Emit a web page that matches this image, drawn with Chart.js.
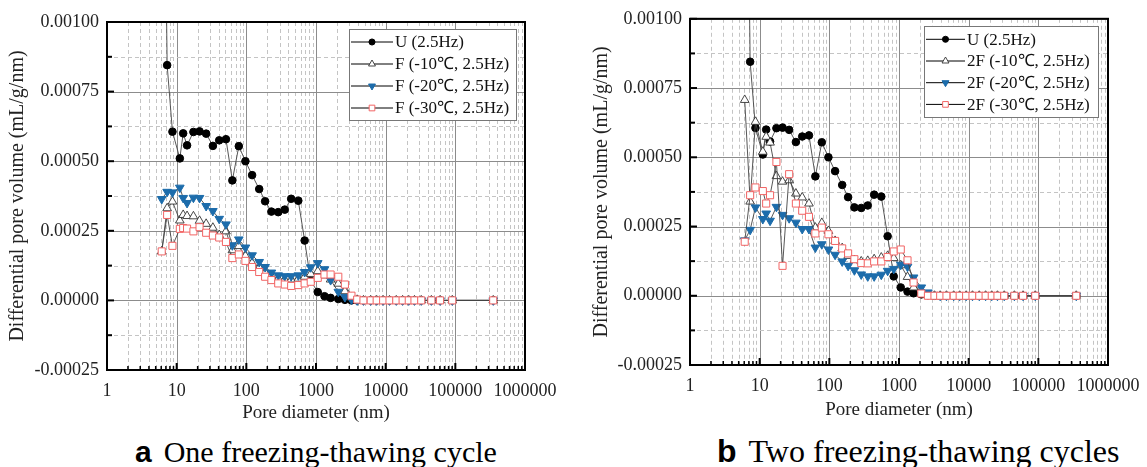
<!DOCTYPE html>
<html>
<head>
<meta charset="utf-8">
<script src="https://cdn.jsdelivr.net/npm/chart.js@4.4.1/dist/chart.umd.min.js"></script>
<style>
  body { margin: 0; background: #fff; width: 1147px; height: 467px; overflow: hidden; }
  .wrap { position: absolute; top: 0; height: 430px; }
  .cap { position: absolute; font-family: "Liberation Serif", serif; line-height: 1; color: #000; white-space: nowrap; }
  .cap b { font-family: "Liberation Sans", Arial, sans-serif; font-weight: bold; margin-right: 12px; }
</style>
</head>
<body>
<div class="wrap" style="left:0;width:560px"><canvas id="chartA"></canvas></div>
<div class="wrap" style="left:580px;width:567px"><canvas id="chartB"></canvas></div>
<div class="cap" style="left:135px;top:437px;font-size:30px"><b>a</b>One freezing-thawing cycle</div>
<div class="cap" style="left:717px;top:435px;font-size:32px"><b>b</b>Two freezing-thawing cycles</div>

<script>
// pore diameters (nm), same mercury intrusion steps for every curve
const poreSize = [6.1, 7.3, 8.7, 11.1, 12.4, 14.1, 17.4, 21.3, 26.5, 33.1, 40.8, 51, 63, 78, 97, 121, 153, 186, 229, 287,
  356, 440, 557, 687, 840, 1060, 1325, 1620, 2090, 2600, 3230, 3900, 4800, 6100, 7430, 9200, 11350, 14200, 17500, 21450,
  25900, 32400, 45300, 60400, 90300, 350000];

// differential pore volume (mL/g/nm)
const volU = [0.0025, 0.000845, 0.000606, 0.00051, 0.0006, 0.000557, 0.000605, 0.000607, 0.000599, 0.000555, 0.000575,
  0.000579, 0.000431, 0.000554, 0.0005, 0.00045, 0.0004, 0.000356, 0.000319, 0.000317, 0.000326, 0.000365, 0.000358,
  0.000215, 0.00007, 0.00003, 0.000015, 0.000009, 0.000005, 0.000002, 0, 0, 0, 0, 0, 0, 0, 0, 0, 0, 0, 0, 0, 0, 0, 0];

const volF10 = [0.000176, 0.000331, 0.000355, 0.000287, 0.000307, 0.000303, 0.000302, 0.000286, 0.000275, 0.000261,
  0.000235, 0.000248, 0.00018, 0.000195, 0.00016, 0.000135, 0.000118, 0.0001, 0.000088, 0.000078, 0.000075, 0.000075,
  0.000078, 0.000085, 0.000095, 0.000105, 0.00009, 0.000075, 0.00006, 0.000033, 0.00001, 0.000002, 0, 0, 0, 0, 0, 0, 0,
  0, 0, 0, 0, 0, 0, 0];
const volF20 = [0.000364, 0.00039, 0.000388, 0.000405, 0.000368, 0.00035, 0.000369, 0.000368, 0.000339, 0.000321,
  0.000293, 0.000273, 0.000198, 0.000219, 0.00019, 0.000162, 0.000138, 0.00012, 0.0001, 0.00009, 0.000087, 0.000087,
  0.00009, 0.000102, 0.000119, 0.000134, 0.000112, 0.000073, 0.000031, 0.000012, 0.000003, 0, 0, 0, 0, 0, 0, 0, 0, 0,
  0, 0, 0, 0, 0, 0];
const volF30 = [0.000176, 0.000307, 0.000196, 0.000257, 0.00026, 0.000258, 0.000248, 0.000263, 0.000243, 0.000233,
  0.000226, 0.00021, 0.000152, 0.000165, 0.000142, 0.00012, 0.000102, 0.000085, 0.000073, 0.000061, 0.000057, 0.000052,
  0.000055, 0.000061, 0.000067, 0.000081, 0.000093, 0.000093, 0.000085, 0.000057, 0.000017, 0.000003, 0, 0, 0, 0, 0, 0,
  0, 0, 0, 0, 0, 0, 0, 0];

const vol2F10 = [0.000707, 0.00034, 0.000628, 0.00052, 0.000574, 0.000553, 0.000432, 0.000412, 0.000417, 0.000369,
  0.000355, 0.000333, 0.000246, 0.000263, 0.000234, 0.000198, 0.000172, 0.000144, 0.000129, 0.000124, 0.000126,
  0.000132, 0.000138, 0.000144, 0.000136, 0.00011, 0.000068, 0.00003, 0.00001, 0.000002, 0, 0, 0, 0, 0, 0, 0, 0, 0, 0,
  0, 0, 0, 0, 0, 0];
const vol2F20 = [0.0002, 0.000238, 0.000319, 0.000277, 0.000297, 0.000271, 0.000321, 0.000292, 0.00028, 0.000264,
  0.000241, 0.000241, 0.000174, 0.000186, 0.000167, 0.000148, 0.000124, 0.000108, 0.000092, 0.000077, 0.00007, 0.00007,
  0.000076, 0.00009, 0.000097, 0.000112, 0.000105, 0.000066, 0.00003, 0.000012, 0.000003, 0, 0, 0, 0, 0, 0, 0, 0, 0, 0,
  0, 0, 0, 0, 0];
const vol2F30 = [0.000195, 0.000363, 0.000391, 0.000378, 0.000333, 0.000363, 0.000483, 0.000108, 0.000439, 0.000333,
  0.000307, 0.000285, 0.000225, 0.000246, 0.000222, 0.000198, 0.000171, 0.000153, 0.000132, 0.000118, 0.000117,
  0.000124, 0.000124, 0.00014, 0.00016, 0.000167, 0.000128, 0.000048, 0.000008, 0, 0, 0, 0, 0, 0, 0, 0, 0, 0, 0, 0, 0,
  0, 0, 0, 0];

const labelsA = ['U (2.5Hz)', 'F (-10℃, 2.5Hz)', 'F (-20℃, 2.5Hz)', 'F (-30℃, 2.5Hz)'];
const labelsB = ['U (2.5Hz)', '2F (-10℃, 2.5Hz)', '2F (-20℃, 2.5Hz)', '2F (-30℃, 2.5Hz)'];

// axis ticks
const decades = [1, 10, 100, 1000, 10000, 100000, 1000000];
const yMin = -0.00025, yMax = 0.001, yStep = 0.00025;

const SERIF = '"Liberation Serif", "Times New Roman", serif';

// marker look of the four curves
const markers = [
  { pointStyle: 'circle', pointRadius: 3.8, pointBackgroundColor: '#000', pointBorderColor: '#000', pointBorderWidth: 1 },
  { pointStyle: 'triangle', pointRadius: 5, pointBackgroundColor: '#fff', pointBorderColor: '#333', pointBorderWidth: 0.9 },
  { pointStyle: 'triangle', pointRotation: 180, pointRadius: 5, pointBackgroundColor: '#1c6cab', pointBorderColor: '#1c6cab', pointBorderWidth: 1 },
  { pointStyle: 'rect', pointRadius: 5, pointBackgroundColor: '#fff', pointBorderColor: '#f26464', pointBorderWidth: 1 }
];

const isDecade = v => Math.abs(Math.log10(v) - Math.round(Math.log10(v))) < 1e-9;

// draw one marker by hand (used in the legend box)
const drawMarker = (ctx, ds, x, y, scale) => {
  const r = ds.pointRadius * scale;
  ctx.save();
  ctx.fillStyle = ds.pointBackgroundColor;
  ctx.strokeStyle = ds.pointBorderColor;
  ctx.lineWidth = ds.pointBorderWidth;
  ctx.beginPath();
  if (ds.pointStyle === 'circle') {
    ctx.arc(x, y, r, 0, Math.PI * 2);
  } else if (ds.pointStyle === 'triangle') {
    const d = ds.pointRotation === 180 ? -1 : 1;
    ctx.moveTo(x, y - d * r);
    ctx.lineTo(x + r * 0.866, y + d * r / 2);
    ctx.lineTo(x - r * 0.866, y + d * r / 2);
    ctx.closePath();
  } else {
    const s = r / Math.SQRT2;
    ctx.rect(x - s, y - s, 2 * s, 2 * s);
  }
  ctx.fill();
  ctx.stroke();
  ctx.restore();
};

// gridlines, frame and inward ticks, placed through the chart scales
const frameGrid = {
  id: 'frameGrid',
  beforeDatasetsDraw(chart) {
    const { ctx, chartArea: a, scales: { x, y } } = chart;
    ctx.save();
    ctx.lineWidth = 1;
    for (let e = 0; e < 6; e++) {
      for (let k = 1; k <= 9; k++) {
        const px = Math.round(x.getPixelForValue(k * Math.pow(10, e))) + 0.5;
        ctx.strokeStyle = k === 1 ? '#8c8c8c' : '#c4c4c4';
        ctx.setLineDash(k === 1 ? [] : [4, 3]);
        ctx.beginPath(); ctx.moveTo(px, a.top); ctx.lineTo(px, a.bottom); ctx.stroke();
      }
    }
    for (let v = yMin; v <= yMax + 1e-12; v += yStep / 2) {
      const py = Math.round(y.getPixelForValue(v)) + 0.5;
      const major = Math.abs(v / yStep - Math.round(v / yStep)) < 1e-6;
      ctx.strokeStyle = major ? '#8c8c8c' : '#c4c4c4';
      ctx.setLineDash(major ? [] : [4, 3]);
      ctx.beginPath(); ctx.moveTo(a.left, py); ctx.lineTo(a.right, py); ctx.stroke();
    }
    ctx.restore();
  },
  afterDraw(chart) {
    const { ctx, chartArea: a, scales: { x, y } } = chart;
    ctx.save();
    ctx.strokeStyle = '#000';
    // ticks on the left axis
    for (let v = yMin; v <= yMax + 1e-12; v += yStep / 2) {
      const py = y.getPixelForValue(v);
      const major = Math.abs(v / yStep - Math.round(v / yStep)) < 1e-6;
      ctx.lineWidth = 2;
      ctx.beginPath(); ctx.moveTo(a.left, py); ctx.lineTo(a.left + (major ? 7 : 5), py); ctx.stroke();
    }
    // ticks on the bottom axis
    for (let e = 0; e < 6; e++) {
      for (let k = 1; k <= 9; k++) {
        const px = x.getPixelForValue(k * Math.pow(10, e));
        ctx.lineWidth = k === 1 ? 2 : 1.5;
        ctx.beginPath(); ctx.moveTo(px, a.bottom); ctx.lineTo(px, a.bottom - (k === 1 ? 7 : 4)); ctx.stroke();
      }
    }
    ctx.lineWidth = 2;
    ctx.strokeRect(a.left, a.top, a.right - a.left, a.bottom - a.top);
    ctx.restore();
  }
};

// legend box inside the plot: black line through the marker
const boxLegend = {
  id: 'boxLegend',
  afterDraw(chart, args, o) {
    const ctx = chart.ctx;
    ctx.save();
    ctx.fillStyle = '#fff';
    ctx.fillRect(o.left, o.top, o.width, o.height);
    ctx.strokeStyle = '#777';
    ctx.lineWidth = 1;
    ctx.strokeRect(o.left + 0.5, o.top + 0.5, o.width, o.height);
    chart.data.datasets.forEach((ds, i) => {
      const cy = o.top + o.firstRow + i * o.rowGap;
      ctx.strokeStyle = '#000';
      ctx.lineWidth = 1;
      ctx.beginPath(); ctx.moveTo(o.lineFrom, cy); ctx.lineTo(o.lineTo, cy); ctx.stroke();
      drawMarker(ctx, ds, (o.lineFrom + o.lineTo) / 2, cy, 0.8);
      ctx.fillStyle = '#111';
      ctx.font = '17px ' + SERIF;
      ctx.textBaseline = 'middle';
      ctx.fillText(ds.label, o.textX, cy + 1);
    });
    ctx.restore();
  }
};

const makeChart = (id, labels, vols, lay) => {
  const datasets = vols.map((vol, i) => Object.assign({
    label: labels[i],
    data: poreSize.map((p, j) => ({ x: p, y: vol[j] })),
    showLine: true,
    borderColor: '#444',
    borderWidth: 0.9,
    order: 4 - i
  }, markers[i]));

  new Chart(document.getElementById(id), {
    type: 'scatter',
    data: { datasets },
    plugins: [frameGrid, boxLegend],
    options: {
      responsive: true,
      maintainAspectRatio: false,
      animation: false,
      events: [],
      layout: { padding: { left: 0, right: lay.padRight, top: lay.padTop, bottom: 0 } },
      plugins: { legend: { display: false }, tooltip: { enabled: false }, boxLegend: lay.legend },
      scales: {
        x: {
          type: 'logarithmic',
          min: decades[0],
          max: decades[decades.length - 1],
          grid: { display: false },
          border: { display: false },
          afterFit: s => { s.height = lay.axisH; },
          ticks: {
            autoSkip: false, maxRotation: 0, padding: 2, color: '#222',
            font: { family: SERIF, size: 18 },
            callback: v => (isDecade(v) ? String(Math.round(v)) : '')
          },
          title: {
            display: true, text: 'Pore diameter (nm)', color: '#222',
            font: { family: SERIF, size: 19 }, padding: { top: 0, bottom: lay.xTitlePad }
          }
        },
        y: {
          min: yMin,
          max: yMax,
          grid: { display: false, drawTicks: false },
          border: { display: false },
          afterFit: s => { s.width = lay.axisW; },
          ticks: {
            stepSize: yStep, padding: 8, color: '#222',
            font: { family: SERIF, size: 18 },
            callback: v => v.toFixed(5)
          },
          title: {
            display: true, text: 'Differential pore volume (mL/g/nm)', color: '#222',
            font: { family: SERIF, size: 20 }, padding: { top: lay.yTitlePad, bottom: 0 }
          }
        }
      }
    }
  });
};

makeChart('chartA', labelsA, [volU, volF10, volF20, volF30], {
  padTop: 22, padRight: 35, axisW: 107, axisH: 60, yTitlePad: 6, xTitlePad: 5.6,
  legend: { left: 349, top: 29, width: 167, height: 91, firstRow: 13, rowGap: 22, lineFrom: 351, lineTo: 393, textX: 395 }
});

makeChart('chartB', labelsB, [volU, vol2F10, vol2F20, vol2F30], {
  padTop: 17, padRight: 39, axisW: 110, axisH: 65, yTitlePad: 10, xTitlePad: 8.6,
  legend: { left: 344, top: 26, width: 174, height: 91, firstRow: 13.3, rowGap: 21.7, lineFrom: 346, lineTo: 385, textX: 387 }
});
</script>
</body>
</html>
